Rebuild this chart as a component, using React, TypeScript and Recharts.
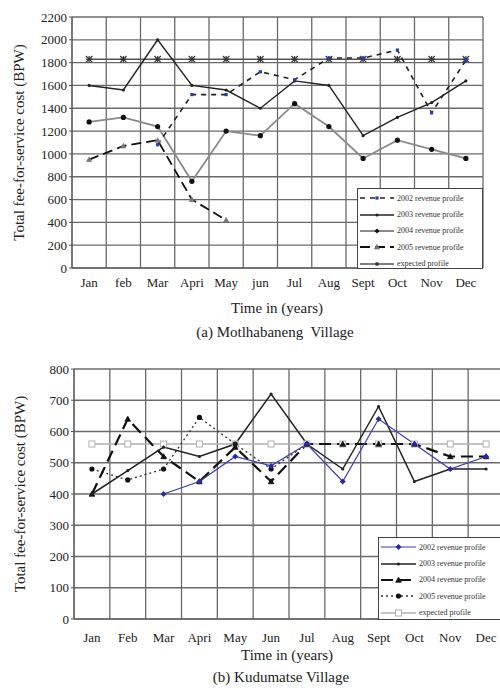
import { LineChart, Line, XAxis, YAxis, CartesianGrid } from 'recharts'

const SERIF = '"Liberation Serif", "Times New Roman", serif'

// months, as printed under each panel
const MONTHS_A = ['Jan', 'feb', 'Mar', 'Apri', 'May', 'jun', 'Jul', 'Aug', 'Sept', 'Oct', 'Nov', 'Dec']
const MONTHS_B = ['Jan', 'Feb', 'Mar', 'Apri', 'May', 'Jun', 'Jul', 'Aug', 'Sept', 'Oct', 'Nov', 'Dec']

// (a) Motlhabaneng Village
const A_2002 = [null, null, 1080, 1520, 1520, 1720, 1650, 1840, 1840, 1910, 1360, 1820]
const A_2003 = [1600, 1560, 2000, 1600, 1560, 1400, 1640, 1600, 1160, 1320, 1450, 1640]
const A_2004 = [1280, 1320, 1240, 760, 1200, 1160, 1440, 1240, 960, 1120, 1040, 960]
const A_2005 = [950, 1070, 1120, 600, 420, null, null, null, null, null, null, null]
const A_EXPECTED = [1830, 1830, 1830, 1830, 1830, 1830, 1830, 1830, 1830, 1830, 1830, 1830]
const A_TICKS = [0, 200, 400, 600, 800, 1000, 1200, 1400, 1600, 1800, 2000, 2200]

// (b) Kudumatse Village
const B_2002 = [null, null, 400, 440, 520, 490, 560, 440, 640, 560, 480, 520]
const B_2003 = [400, 475, 550, 520, 560, 720, 560, 480, 680, 440, 480, 480]
const B_2004 = [400, 640, 520, 440, 550, 440, 560, 560, 560, 560, 520, 520]
const B_2005 = [480, 445, 480, 645, 560, 480, 560, null, null, null, null, null]
const B_EXPECTED = [560, 560, 560, 560, 560, 560, 560, 560, 560, 560, 560, 560]
const B_TICKS = [0, 100, 200, 300, 400, 500, 600, 700, 800]

const LEGEND_NAMES = ['2002 revenue profile', '2003 revenue profile', '2004 revenue profile', '2005 revenue profile', 'expected profile']

const buildRows = (months: string[], s: (number | null)[][]) =>
  months.map((m, i) => ({
    x: i + 0.5,
    month: m,
    y2002: s[0][i],
    y2003: s[1][i],
    y2004: s[2][i],
    y2005: s[3][i],
    expected: s[4][i],
  }))

const rowsA = buildRows(MONTHS_A, [A_2002, A_2003, A_2004, A_2005, A_EXPECTED])
const rowsB = buildRows(MONTHS_B, [B_2002, B_2003, B_2004, B_2005, B_EXPECTED])
const xTicks = MONTHS_A.map((_, i) => i + 0.5)

// grid lines sit on the month boundaries, labels in the middle of each cell
const monthBoundaries = ({ offset }: any) =>
  Array.from({ length: 13 }, (_, i) => offset.left + (offset.width * i) / 12)

type Kind = 'asterisk' | 'dot' | 'square' | 'triangle' | 'diamond' | 'openSquare' | 'circle'

function Marker({ kind, cx, cy, color, size = 3 }: { kind: Kind; cx: number; cy: number; color: string; size?: number }) {
  const s = size
  switch (kind) {
    case 'asterisk':
      return (
        <g stroke={color} strokeWidth={1.2}>
          <line x1={cx - s} y1={cy - s} x2={cx + s} y2={cy + s} />
          <line x1={cx - s} y1={cy + s} x2={cx + s} y2={cy - s} />
          <line x1={cx} y1={cy - s} x2={cx} y2={cy + s} />
          <line x1={cx - s} y1={cy} x2={cx + s} y2={cy} />
        </g>
      )
    case 'square':
      return <rect x={cx - s / 2} y={cy - s / 2} width={s} height={s} fill={color} />
    case 'openSquare':
      return <rect x={cx - s} y={cy - s} width={s * 2} height={s * 2} fill="#fff" stroke={color} strokeWidth={1} />
    case 'triangle':
      return <polygon points={`${cx},${cy - s} ${cx - s},${cy + s * 0.8} ${cx + s},${cy + s * 0.8}`} fill={color} stroke={color} strokeWidth={0.8} />
    case 'diamond':
      return <polygon points={`${cx},${cy - s} ${cx + s},${cy} ${cx},${cy + s} ${cx - s},${cy}`} fill={color} />
    case 'circle':
    case 'dot':
    default:
      return <circle cx={cx} cy={cy} r={s} fill={color} />
  }
}

const dotOf = (kind: Kind, color: string, size: number) => (p: any) =>
  p.value == null || p.cy == null ? (
    <g key={`e-${p.index}`} />
  ) : (
    <Marker key={`m-${p.index}`} kind={kind} cx={p.cx} cy={p.cy} color={color} size={size} />
  )

interface SeriesStyle {
  key: string
  stroke: string
  width: number
  dash?: string
  kind: Kind
  markColor: string
  markSize: number
  legendKind?: Kind
}

const STYLE_A: SeriesStyle[] = [
  { key: 'expected', stroke: '#555', width: 1.4, kind: 'asterisk', markColor: '#333', markSize: 3.2, legendKind: 'square' },
  { key: 'y2004', stroke: '#8a8a8a', width: 1.8, kind: 'dot', markColor: '#111', markSize: 2.6, legendKind: 'diamond' },
  { key: 'y2003', stroke: '#222', width: 1.4, kind: 'dot', markColor: '#222', markSize: 1.6 },
  { key: 'y2005', stroke: '#111', width: 1.8, dash: '10 5', kind: 'triangle', markColor: '#777', markSize: 2.5 },
  { key: 'y2002', stroke: '#222', width: 1.6, dash: '5 5', kind: 'square', markColor: '#2a3cb0', markSize: 3.2 },
]

const STYLE_B: SeriesStyle[] = [
  { key: 'expected', stroke: '#b0b0b0', width: 1.5, kind: 'openSquare', markColor: '#b0b0b0', markSize: 3 },
  { key: 'y2005', stroke: '#333', width: 1.3, dash: '2 3', kind: 'circle', markColor: '#111', markSize: 2.6 },
  { key: 'y2004', stroke: '#111', width: 2.2, dash: '12 6', kind: 'triangle', markColor: '#111', markSize: 2.8 },
  { key: 'y2003', stroke: '#222', width: 1.5, kind: 'dot', markColor: '#222', markSize: 1.6 },
  { key: 'y2002', stroke: '#3b3bb5', width: 1.2, kind: 'diamond', markColor: '#2a2aa8', markSize: 3 },
]

const LEGEND_ORDER = ['y2002', 'y2003', 'y2004', 'y2005', 'expected']

function LegendBox({ styles, left, top, width, height, sampleW }: { styles: SeriesStyle[]; left: number; top: number; width: number; height: number; sampleW: number }) {
  return (
    <div
      style={{
        position: 'absolute', left, top, width, height, boxSizing: 'border-box',
        border: '1px solid #444', background: '#fff', padding: '1px 0 0 2px',
      }}
    >
      {LEGEND_ORDER.map((k, i) => {
        const st = styles.find((s) => s.key === k)!
        return (
          <div key={k} style={{ display: 'flex', alignItems: 'center', height: 16.4 }}>
            <svg width={sampleW} height={10} style={{ flex: 'none' }}>
              <line x1={0} y1={5} x2={sampleW} y2={5} stroke={st.stroke} strokeWidth={st.width} strokeDasharray={st.dash} />
              <Marker kind={st.legendKind ?? st.kind} cx={sampleW / 2} cy={5} color={st.markColor} size={st.markSize} />
            </svg>
            <span style={{ fontFamily: SERIF, fontSize: 8, color: '#333', marginLeft: 3, whiteSpace: 'nowrap' }}>
              {LEGEND_NAMES[i]}
            </span>
          </div>
        )
      })}
    </div>
  )
}

function Caption({ text, center, top }: { text: string; center: number; top: number }) {
  return (
    <div
      style={{
        position: 'absolute', left: center - 120, top, width: 240, textAlign: 'center',
        fontFamily: SERIF, fontSize: 15, lineHeight: '17px', color: '#222', whiteSpace: 'pre',
      }}
    >
      {text}
    </div>
  )
}

function Panel({ rows, months, styles, yTicks, width, margin, yWidth, tickGap, labelOffset }: any) {
  const tickStyle = { fontSize: 13, fontFamily: SERIF, fill: '#222' }
  return (
    <LineChart width={width} height={300} data={rows} margin={margin}>
      <CartesianGrid stroke="#6a6a6a" strokeWidth={1.3} verticalCoordinatesGenerator={monthBoundaries} />
      <XAxis
        type="number"
        dataKey="x"
        domain={[0, 12]}
        ticks={xTicks}
        interval={0}
        tickFormatter={(v: number) => months[Math.floor(v)]}
        height={20}
        tick={tickStyle}
        tickLine={false}
        tickSize={4}
        tickMargin={tickGap}
        axisLine={{ stroke: '#555' }}
      />
      <YAxis
        width={yWidth}
        domain={[yTicks[0], yTicks[yTicks.length - 1]]}
        ticks={yTicks}
        interval={0}
        tick={tickStyle}
        tickSize={3}
        tickMargin={2}
        tickLine={{ stroke: '#555' }}
        axisLine={{ stroke: '#555' }}
        label={{
          value: 'Total fee-for-service cost (BPW)',
          angle: -90,
          position: 'insideLeft',
          offset: labelOffset,
          style: { textAnchor: 'middle', fontSize: 15, fontFamily: SERIF, fill: '#222' },
        }}
      />
      {styles.map((s: SeriesStyle) => (
        <Line
          key={s.key}
          type="linear"
          dataKey={s.key}
          stroke={s.stroke}
          strokeWidth={s.width}
          strokeDasharray={s.dash}
          dot={dotOf(s.kind, s.markColor, s.markSize)}
          activeDot={false}
          isAnimationActive={false}
        />
      ))}
    </LineChart>
  )
}

export default function App() {
  return (
    <div style={{ position: 'absolute', left: 0, top: 0, width: 500, height: 688, overflow: 'hidden', background: '#fff' }}>
      <div style={{ position: 'absolute', left: 0, top: 0 }}>
        <Panel
          rows={rowsA}
          months={MONTHS_A}
          styles={STYLE_A}
          yTicks={A_TICKS}
          width={500}
          margin={{ top: 17, right: 17, bottom: 12, left: 0 }}
          yWidth={72}
          tickGap={6}
          labelOffset={19}
        />
      </div>
      <LegendBox styles={STYLE_A} left={357} top={188} width={126} height={81} sampleW={34} />
      <Caption text="Time in (years)" center={277} top={300} />
      <Caption text="(a) Motlhabaneng  Village" center={275} top={324} />

      <div style={{ position: 'absolute', left: 0, top: 350 }}>
        <Panel
          rows={rowsB}
          months={MONTHS_B}
          styles={STYLE_B}
          yTicks={B_TICKS}
          width={504}
          margin={{ top: 19, right: 0, bottom: 11, left: 0 }}
          yWidth={74}
          tickGap={10}
          labelOffset={20}
        />
      </div>
      <LegendBox styles={STYLE_B} left={378} top={537} width={126} height={83} sampleW={35} />
      <Caption text="Time in (years)" center={287} top={647} />
      <Caption text="(b) Kudumatse Village" center={281} top={669} />
    </div>
  )
}
